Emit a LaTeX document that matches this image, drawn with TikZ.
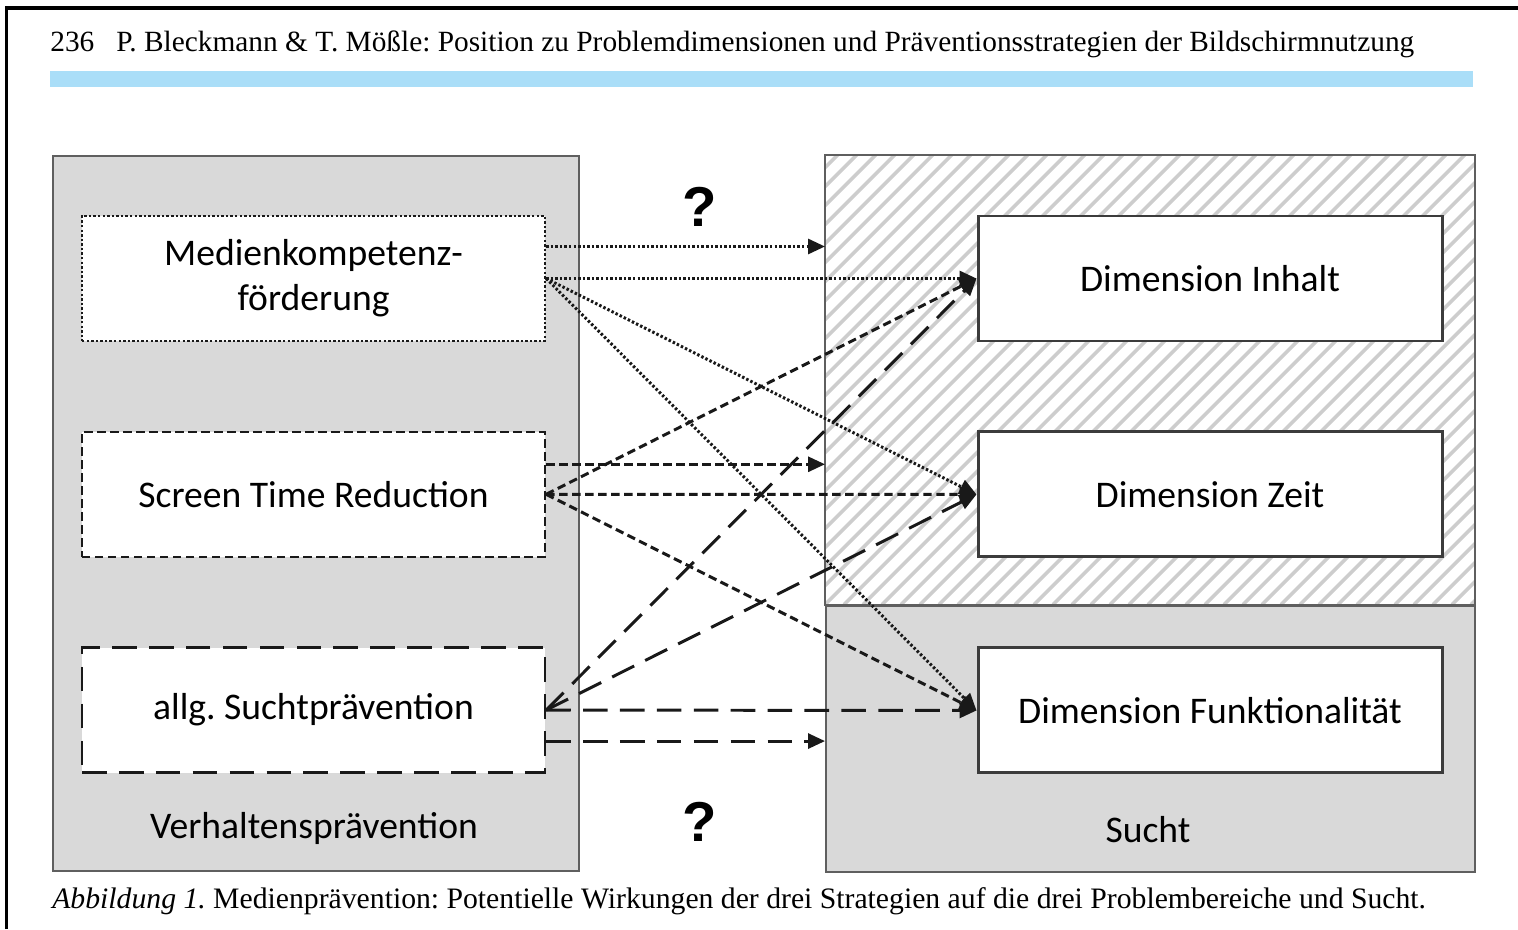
\documentclass[tikz,border=0pt]{standalone}
\usepackage{fontspec}
\setmainfont{Liberation Serif}
\newfontfamily\calibrifont{Carlito}
\newfontfamily\arialfont{Liberation Sans}
\usetikzlibrary{arrows.meta,positioning,calc}
\definecolor{Rahmen}{RGB}{95,95,95}
\definecolor{GrauFlaeche}{RGB}{217,217,217}
\definecolor{Schraffur}{RGB}{205,205,205}
\definecolor{KopfBlau}{RGB}{170,222,248}
\definecolor{Strich}{RGB}{25,25,25}
\definecolor{Kasten}{RGB}{60,60,60}
\newcommand{\boxschrift}{\frenchspacing\calibrifont\fontsize{21.4}{25.6}\selectfont}
\newcommand{\kopfschrift}{\frenchspacing\fontsize{16.7}{19}\selectfont}
\newcommand{\abbschrift}{\frenchspacing\fontsize{16.9}{19}\selectfont}
\tikzset{
  panel/.style={draw=Rahmen, line width=1.2pt, fill=GrauFlaeche, inner sep=0pt},
  strategiebox/.style={draw=Strich, line width=1.3pt, fill=white, align=center,
    minimum width=9.26cm, minimum height=2.5cm, font=\boxschrift, inner sep=3pt},
  dimbox/.style={draw=Kasten, line width=1.7pt, fill=white, align=center,
    minimum width=9.28cm, minimum height=2.5cm, font=\boxschrift, inner sep=3pt},
  % ---- Linienarten der drei Strategien ----
  punktlinie/.style={dash pattern=on 1.4pt off 1.2pt},
  kurzstrich/.style={dash pattern=on 4.8pt off 2.6pt},
  langstrich/.style={dash pattern=on 14pt off 7pt},
  wirkpfeil/.style={-{Triangle[length=3.4mm, width=3mm]}, line width=1.7pt, draw=Strich},
  frage/.style={font=\arialfont\bfseries\fontsize{32}{32}\selectfont, inner sep=0pt},
  flaechentext/.style={font=\boxschrift, inner sep=0pt},
}

\begin{document}
\begin{tikzpicture}
    \useasboundingbox (0,0) rectangle (30.36,18.58);
    \draw[line width=1.8pt] (0.13,0) -- (0.13,18.42) -- (30.36,18.42);
    \node[anchor=base west, font=\kopfschrift, inner sep=0pt] (kopf) at (1.0,17.54)
      {236\hspace{0.5em} P. Bleckmann \& T. Mößle: Position zu Problemdimensionen und Präventionsstrategien der Bildschirmnutzung};
    \node[fill=KopfBlau, anchor=north west, minimum width=28.46cm, minimum height=0.32cm, inner sep=0pt] (balken) at (1.0,17.16) {};

    \node[panel, anchor=north west, minimum width=10.52cm, minimum height=14.3cm] (verhalten) at (1.04,15.48) {};
    \node[fill=white, anchor=north west, minimum width=12.98cm, minimum height=8.98cm, inner sep=0pt] (dimfeld) at (16.5,15.48) {};
    \begin{scope}
      \clip (dimfeld.south west) rectangle (dimfeld.north east);
      \foreach \k in {-24,...,34}
        \draw[Schraffur, line width=2pt] ($(dimfeld.south west)+(\k*0.38,0)$) -- ++(9,9);
    \end{scope}
    \node[panel, anchor=north west, minimum width=12.98cm, minimum height=5.32cm] (suchtfeld) at (dimfeld.south west) {};
    \draw[draw=Rahmen, line width=1.2pt] (dimfeld.south west) rectangle (dimfeld.north east);

    \node[strategiebox, punktlinie] (mk) at (6.27,13.01) {Medienkompetenz-\\förderung};
    \node[strategiebox, kurzstrich, below=1.77cm of mk] (str) {Screen Time Reduction};
    \node[strategiebox, langstrich, below=1.77cm of str] (sp) {allg. Suchtprävention};

    \node[dimbox] (inhalt) at (24.2,13.01) {Dimension Inhalt};
    \node[dimbox, below=1.76cm of inhalt] (zeit) {Dimension Zeit};
    \node[dimbox, below=1.76cm of zeit] (funktion) {Dimension Funktionalität};

    \node[flaechentext] (vtext) at (6.28,2.02) {Verhaltensprävention};
    \node[flaechentext] (stext) at (22.96,1.98) {Sucht};
    \node[frage] (frage1) at (14.0,14.44) {?};
    \node[frage] (frage2) at (14.0,2.14) {?};

    \coordinate (mkkurz) at ($(mk.east)+(0,0.64)$);
    \coordinate (strkurz) at ($(str.east)+(0,0.6)$);
    \coordinate (spkurz) at ($(sp.east)+(0,-0.62)$);
    \draw[wirkpfeil, punktlinie] (mkkurz) -- (mkkurz -| dimfeld.west);
    \draw[wirkpfeil, punktlinie] (mk.east) -- (inhalt.west);
    \draw[wirkpfeil, punktlinie] (mk.east) -- (zeit.west);
    \draw[wirkpfeil, punktlinie] (mk.east) -- (funktion.west);
    \draw[wirkpfeil, kurzstrich] (strkurz) -- (strkurz -| dimfeld.west);
    \draw[wirkpfeil, kurzstrich] (str.east) -- (inhalt.west);
    \draw[wirkpfeil, kurzstrich] (str.east) -- (zeit.west);
    \draw[wirkpfeil, kurzstrich] (str.east) -- (funktion.west);
    \draw[wirkpfeil, langstrich] (sp.east) -- (inhalt.west);
    \draw[wirkpfeil, langstrich] (sp.east) -- (zeit.west);
    \draw[wirkpfeil, langstrich] (sp.east) -- (funktion.west);
    \draw[wirkpfeil, langstrich] (spkurz) -- (spkurz -| suchtfeld.west);

    \node[anchor=base west, font=\abbschrift, inner sep=0pt] (abb) at (1.04,0.42)
      {\textit{Abbildung 1.} Medienprävention: Potentielle Wirkungen der drei Strategien auf die drei Problembereiche und Sucht.};
\end{tikzpicture}
\end{document}
